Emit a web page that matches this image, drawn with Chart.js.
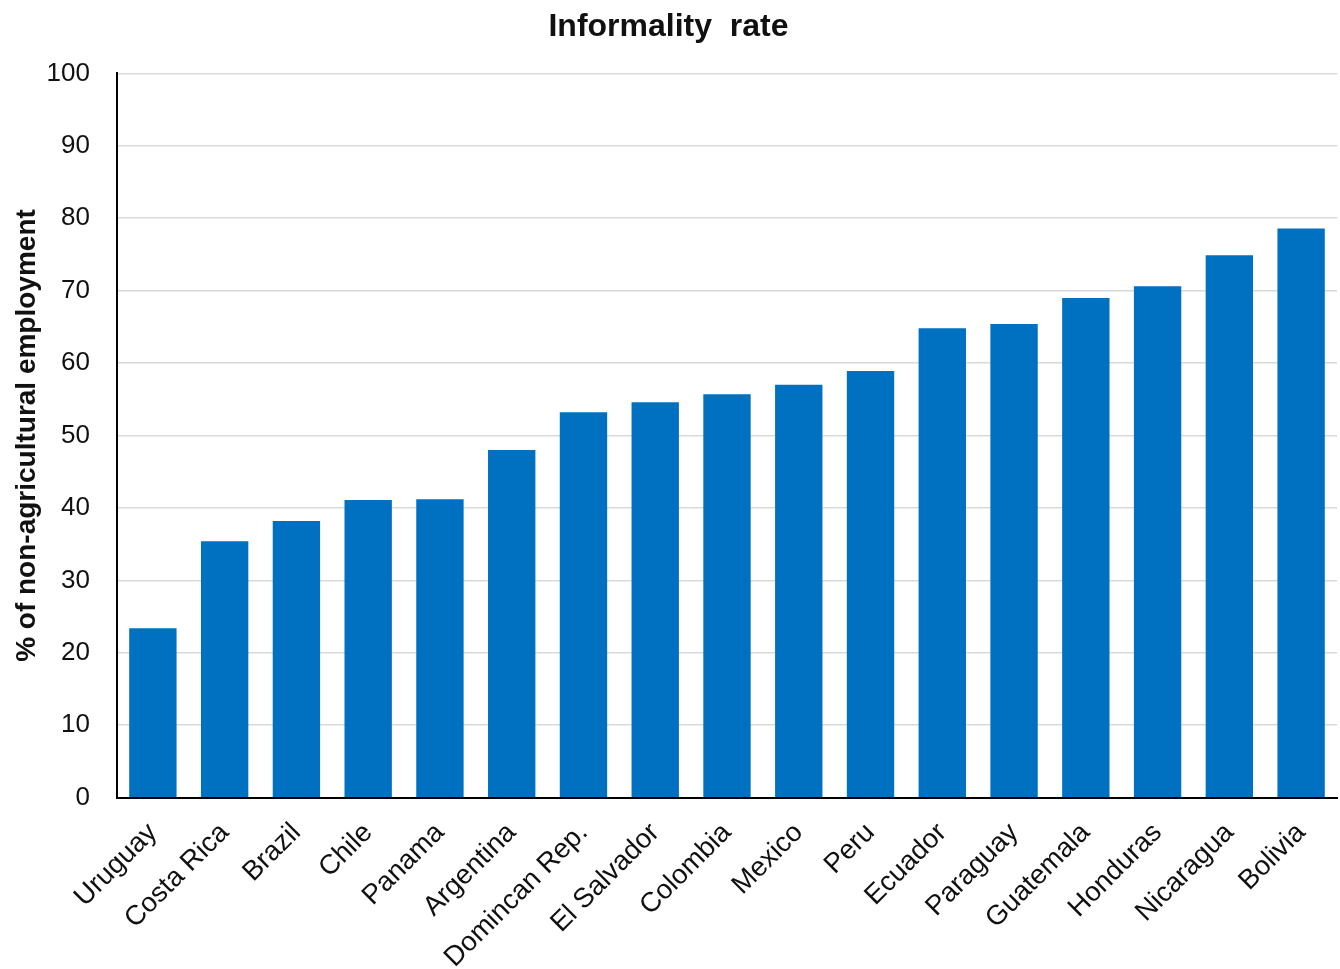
<!DOCTYPE html>
<html>
<head>
<meta charset="utf-8">
<title>Informality rate</title>
<script src="https://cdn.jsdelivr.net/npm/chart.js@4/dist/chart.umd.min.js"></script>
<style>
  html, body { margin: 0; padding: 0; background: #fff; }
  #wrap { width: 1340px; height: 969px; }
</style>
</head>
<body>
<div id="wrap"><canvas id="informalityChart"></canvas></div>
<script>
// Informality rate by country (% of non-agricultural employment)
const COUNTRIES = ["Uruguay", "Costa Rica", "Brazil", "Chile", "Panama", "Argentina", "Domincan Rep.",
  "El Salvador", "Colombia", "Mexico", "Peru", "Ecuador", "Paraguay", "Guatemala", "Honduras",
  "Nicaragua", "Bolivia"];
const RATES = [23.4, 35.4, 38.2, 41.1, 41.2, 48.0, 53.2, 54.6, 55.7, 57.0, 58.9, 64.8, 65.4, 69.0, 70.6, 74.9, 78.6];
const Y_TICKS = [0, 10, 20, 30, 40, 50, 60, 70, 80, 90, 100];

const FONT = "'Liberation Sans', Arial, sans-serif";
const BAR_BLUE = "#0070c0";

const ctx = document.getElementById("informalityChart").getContext("2d");

const informalityChart = new Chart(ctx, {
  type: "bar",
  data: {
    labels: COUNTRIES,
    datasets: [{
      label: "Informality rate",
      data: RATES,
      backgroundColor: BAR_BLUE,
      borderWidth: 0,
      categoryPercentage: 1.0,
      barPercentage: 0.66
    }]
  },
  options: {
    responsive: true,
    maintainAspectRatio: false,
    animation: false,
    // the rotated labels reserve more room than they use, hence the negative bottom
    layout: { padding: { left: 0, right: 3, top: 0, bottom: -16 } },
    scales: {
      y: {
        min: 0,
        max: 100,
        afterBuildTicks: scale => { scale.ticks = Y_TICKS.map(v => ({ value: v })); },
        afterFit: scale => { scale.width = 117; },
        border: { display: true, color: "#000", width: 2 },
        grid: { color: "#d9d9d9", lineWidth: 1.5, drawTicks: false },
        ticks: { color: "#111", padding: 27, font: { family: FONT, size: 26 } },
        title: {
          display: true,
          text: "% of non-agricultural employment",
          color: "#111",
          font: { family: FONT, size: 28, weight: "bold" },
          padding: { top: 10, bottom: 4 }
        }
      },
      x: {
        border: { display: true, color: "#000", width: 2 },
        grid: { display: false },
        ticks: {
          color: "#111",
          minRotation: 45,
          maxRotation: 45,
          padding: 11,
          font: { family: FONT, size: 27.5 }
        }
      }
    },
    plugins: {
      legend: { display: false },
      tooltip: { enabled: false },
      title: {
        display: true,
        text: "Informality  rate",
        color: "#111",
        font: { family: FONT, size: 32, weight: "bold" },
        padding: { top: 8, bottom: 27 }
      }
    }
  }
});
</script>
</body>
</html>
